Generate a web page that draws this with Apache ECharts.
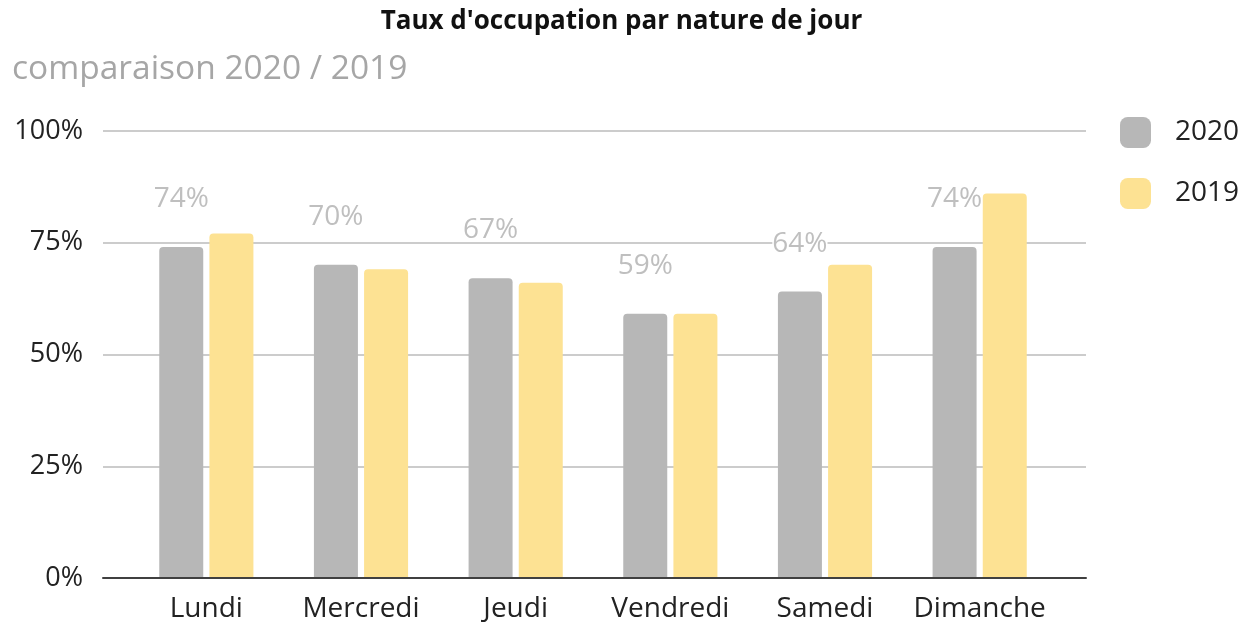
<!DOCTYPE html>
<html>
<head>
<meta charset="utf-8">
<script src="https://cdn.jsdelivr.net/npm/echarts@6/dist/echarts.min.js"></script>
<style>
  html, body { margin: 0; padding: 0; background: #fff; }
  #chart { width: 1243px; height: 623px; }
</style>
</head>
<body>
<div id="chart"></div>
<script>
const days = ["Lundi", "Mercredi", "Jeudi", "Vendredi", "Samedi", "Dimanche"]
const values2020 = [74, 70, 67, 59, 64, 74]
const values2019 = [77, 69, 66, 59, 70, 86]
const yTicks = [0, 25, 50, 75, 100]

const myChart = echarts.init(document.getElementById("chart"))
const font = "'Open Sans', 'Noto Sans', sans-serif"

myChart.setOption({
  animation: false,
  textStyle: { fontFamily: font },
  title: [
    {
      text: "Taux d'occupation par nature de jour",
      left: "center",
      top: 4,
      textStyle: { fontSize: 26, fontWeight: "bold", color: "#111", fontFamily: font }
    },
    {
      text: "comparaison 2020 / 2019",
      left: 7,
      top: 47,
      textStyle: { fontSize: 33.5, fontWeight: "normal", color: "#a6a6a6", fontFamily: font }
    }
  ],
  legend: {
    orient: "vertical",
    left: 1115,
    top: 112,
    itemWidth: 31,
    itemHeight: 31,
    itemGap: 30,
    icon: "roundRect",
    textStyle: { fontSize: 28, color: "#222", lineHeight: 31, padding: [0, 0, 0, 19] },
    data: ["2020", "2019"]
  },
  grid: [
    { left: 103, right: 157, top: 131, bottom: 45 },
    { left: 129, right: 186, top: 131, bottom: 45 }
  ],
  xAxis: [
    {
      gridIndex: 0,
      type: "value",
      min: 0,
      max: 1,
      axisLabel: { show: false },
      axisTick: { show: false },
      splitLine: { show: false },
      axisLine: { show: true, lineStyle: { color: "#404040", width: 2 } }
    },
    {
      gridIndex: 1,
      type: "category",
      data: days,
      axisLine: { show: false },
      axisTick: { show: false },
      axisLabel: { fontSize: 28, color: "#222", margin: 18, interval: 0 }
    }
  ],
  yAxis: [
    {
      gridIndex: 0,
      type: "value",
      min: 0,
      max: 100,
      interval: 25,
      axisLine: { show: false },
      axisTick: { show: false },
      axisLabel: {
        fontSize: 27,
        color: "#222",
        margin: 20,
        formatter: v => (yTicks.includes(v) ? v + "%" : "")
      },
      splitLine: { lineStyle: { color: "#cccccc", width: 2 } }
    },
    {
      gridIndex: 1,
      type: "value",
      min: 0,
      max: 100,
      show: false
    }
  ],
  series: [
    {
      name: "2020",
      type: "bar",
      xAxisIndex: 1,
      yAxisIndex: 1,
      barWidth: 44,
      barGap: "14%",
      itemStyle: { color: "#b7b7b7", borderRadius: [4, 4, 0, 0] },
      label: {
        show: true,
        position: "top",
        distance: 37,
        formatter: "{c}%",
        fontSize: 28,
        lineHeight: 22,
        color: "#bfbfbf",
        backgroundColor: "#fff",
        padding: [0, 0]
      },
      data: values2020
    },
    {
      name: "2019",
      type: "bar",
      xAxisIndex: 1,
      yAxisIndex: 1,
      barWidth: 44,
      itemStyle: { color: "#fde293", borderRadius: [4, 4, 0, 0] },
      data: values2019
    }
  ]
})
</script>
</body>
</html>
